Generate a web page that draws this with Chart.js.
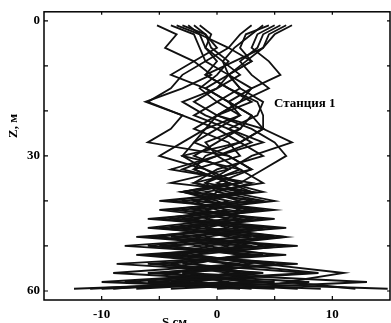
<!DOCTYPE html>
<html>
<head>
<meta charset="utf-8">
<script src="https://cdn.jsdelivr.net/npm/chart.js@4/dist/chart.umd.min.js"></script>
<style>
  html, body { margin: 0; padding: 0; background: #fff; }
  #wrap { width: 391px; height: 323px; }
</style>
</head>
<body>
<div id="wrap"><canvas id="profileChart" width="391" height="323"></canvas></div>
<script>
// Depth levels, m
const depths = [1, 3, 6, 9, 12, 15, 18, 21, 24, 27, 30, 33, 36, 38, 40, 42, 44, 46, 48, 50, 52, 54, 56, 58, 59.5];

// Displacement profiles S, cm (one per sounding)
const s1  = [-5.2, -3.5, -4.5, -2, -0.5, -3, -6.2, -3, -4, -6, 1, 3, -2, 2, -4, 3, -6, 4, -7, 3, -6, 2, -5, 3, -12.4];
const s2  = [-4, -2, -1.5, -1, 1, 2, 0, -2, 1, 3, 0, -3, 2, -3, 4, -5, 2, -4, 5, -5, 6, -6, 4, -8, 2];
const s3  = [-3.5, -1.5, -1, 0.5, 2, 0, -3, -1, 2, 0, -2, 1, -4, 3, -5, 4, -3, 6, -4, 7, -5, 5, -3, 13, 0];
const s4  = [-3, -1, 0, -2, -4, -1, 1, 3, 2, -1, 0, 2, 4, -1, 2, -4, 5, -3, 3, -8, 4, -3, 8, -6, 9];
const s5  = [-2.5, -1.5, 1, 3, 1, 0, -2, 0, 4, 2, -3, -1, 1, 4, -3, 1, -5, 3, -2, 5, -7, 2, -9, 5, -10];
const s6  = [-2, -1, -0.5, 1, 0, -1.5, 0, 2, -1, -3, -5, -1, 2, -2, 3, -3, 1, -6, 4, -2, 3, -5, 1, -3, 14.8];
const s7  = [-1.5, -0.5, -1, 0, -1, 1, 3, 0, -1, -2, 1, 3, 0, 2, -2, 5, -3, 2, -5, 1, -3, 6, -3, 4, -7];
const s8  = [3, 2, 1, -1, -3, -4, -6, -3, 0, 2, 4, 0, -2, 1, 5, -2, 3, -1, 6, -4, 2, -2, 3, -10, 5];
const s9  = [4, 3, 1.5, 0.5, 1, 3, 2, 0, -2, 1, 2, -2, 1, -3, 0, 2, -4, 5, -1, 3, -4, 7, -6, 8, -4];
const s10 = [4.5, 2.5, 2, 3, 1, 2, 4, 3.5, 1, 4, 0, -4, 3, 0, -1, 4, -2, 1, -6, 6, -2, 4, 11, 6, 12];
const s11 = [5, 3.5, 3, 4.5, 5.5, 3, 1, 3, 4, 6.5, 3, 1, -1, 3, -2, 0, 3, -5, 2, -6, 3, -4, 2, -5, 3];
const s12 = [5.5, 4, 3.5, 2, 3, 4.5, 2, 0, 3, 5, 6, 4, 2, -3, 1, -2, 4, -2, 6, -1, 5, -8.7, 4, -2, -9];
const s13 = [6, 4.5, 4, 2.5, 1, -1, 1, 2, 0, -2, -3, 2, -1, 0, 4, -1, 2, -3, 1, 4, -5, 1, 8.8, -4, 7];
const s14 = [6.5, 5, 4, 1.5, -1, 1, 3.5, 4, 4, 2, -1, -2, 1, 3, -1, 3, -1, 4, -3, 2, -2, 3, -4, 1, -11];

const profiles = [s1, s2, s3, s4, s5, s6, s7, s8, s9, s10, s11, s12, s13, s14];

const xTicks = [-10, -5, 0, 5, 10];
const yTicks = [0, 10, 20, 30, 40, 50, 60];

const serif = '"Liberation Serif", "DejaVu Serif", serif';

// Inward ticks on all four sides, frame and text labels
const framePlugin = {
	id: 'frame',
	afterDraw(chart) {
		const { ctx, chartArea: a, scales } = chart;
		ctx.save();
		ctx.strokeStyle = '#000';
		ctx.lineWidth = 1.5;
		ctx.strokeRect(a.left, a.top, a.right - a.left, a.bottom - a.top);
		ctx.lineWidth = 1.2;
		ctx.beginPath();
		for (const v of xTicks) {
			const px = scales.x.getPixelForValue(v);
			ctx.moveTo(px, a.bottom); ctx.lineTo(px, a.bottom - 4);
			ctx.moveTo(px, a.top); ctx.lineTo(px, a.top + 3);
		}
		for (const v of yTicks) {
			const py = scales.y.getPixelForValue(v);
			ctx.moveTo(a.left, py); ctx.lineTo(a.left + 4, py);
			ctx.moveTo(a.right, py); ctx.lineTo(a.right - 3, py);
		}
		ctx.stroke();

		ctx.fillStyle = '#000';
		ctx.font = 'bold 13px ' + serif;
		ctx.textBaseline = 'middle';
		ctx.textAlign = 'left';
		ctx.fillText('Станция 1', 274, 104);

		ctx.textBaseline = 'top';
		ctx.fillText('S,см', 162, 316);

		ctx.translate(14, 126);
		ctx.rotate(-Math.PI / 2);
		ctx.textAlign = 'center';
		ctx.textBaseline = 'middle';
		ctx.fillText('Z, м', 0, 0);
		ctx.restore();
	},
};

const ctx = document.getElementById('profileChart').getContext('2d');

const chart = new Chart(ctx, {
	type: 'scatter',
	data: {
		datasets: profiles.map((s) => ({
			data: s.map((v, i) => ({ x: v, y: depths[i] })),
			showLine: true,
			borderColor: '#111',
			borderWidth: 1.8,
			pointRadius: 0,
			tension: 0,
		})),
	},
	options: {
		responsive: false,
		animation: false,
		layout: { padding: { top: 10, right: 1, left: 0, bottom: 0 } },
		plugins: { legend: { display: false }, tooltip: { enabled: false } },
		scales: {
			x: {
				type: 'linear',
				min: -15,
				max: 15,
				afterFit(scale) { scale.height = 23; },
				afterBuildTicks(scale) { scale.ticks = [-10, 0, 10].map((value) => ({ value })); },
				grid: { display: false, drawTicks: false },
				border: { display: false },
				ticks: {
					padding: 7,
					color: '#000',
					font: { family: serif, size: 13, weight: 'bold' },
					maxRotation: 0,
					autoSkip: false,
				},
			},
			y: {
				type: 'linear',
				reverse: true,
				min: -2,
				max: 62,
				afterFit(scale) { scale.width = 44; },
				afterBuildTicks(scale) { scale.ticks = [0, 30, 60].map((value) => ({ value })); },
				grid: { display: false, drawTicks: false },
				border: { display: false },
				ticks: {
					padding: 4,
					color: '#000',
					font: { family: serif, size: 13, weight: 'bold' },
					autoSkip: false,
				},
			},
		},
	},
	plugins: [framePlugin],
});
</script>
</body>
</html>
